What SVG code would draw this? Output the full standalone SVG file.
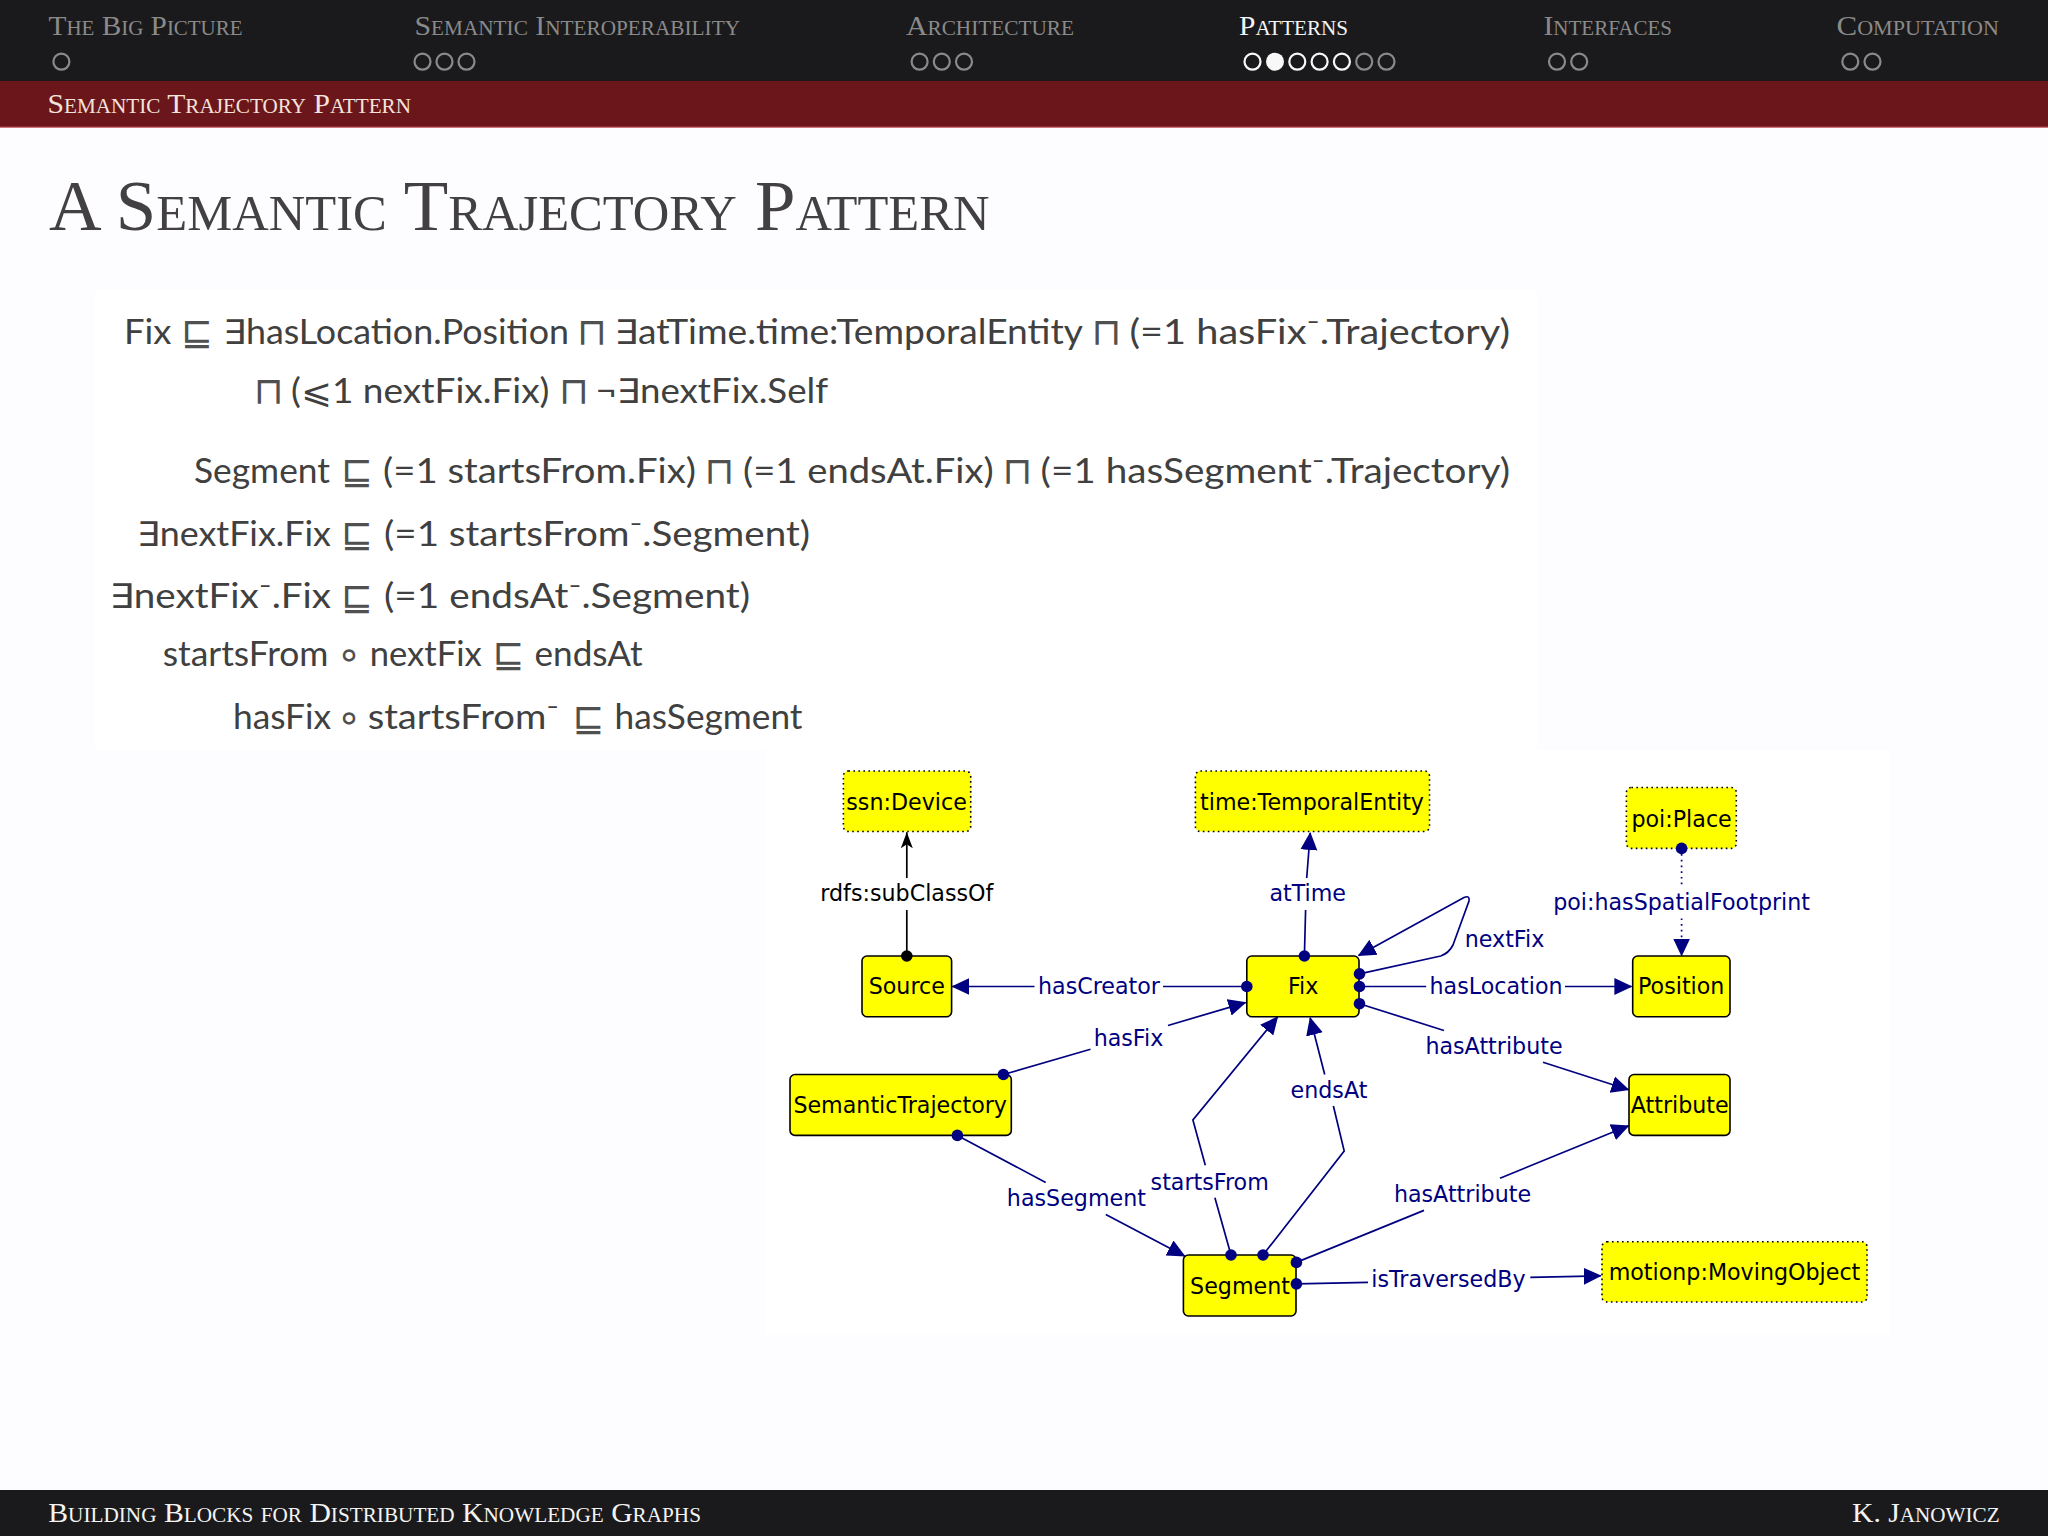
<svg xmlns="http://www.w3.org/2000/svg" width="2048" height="1536" viewBox="0 0 2048 1536">
<style>
.sc{font-family:"Liberation Serif",serif;font-variant:small-caps}
.nav{font-size:28px;fill:#8a8a8a}
.cur{fill:#f4f4f4}
.eq{font-family:"Lato","DejaVu Sans",sans-serif;font-size:34px;fill:#404040}
.s{font-size:38px;fill:#505050}
.o{font-size:40px;fill:#505050}
.n{fill:#ffff00;stroke:#000;stroke-width:1.6}
.d{fill:#ffff00;stroke:#000;stroke-width:1.6;stroke-dasharray:1.6 3.4}
.t{font-family:"DejaVu Sans",sans-serif;font-size:22.2px;fill:#000;text-anchor:middle}
.e{fill:none;stroke:#000080;stroke-width:1.7;marker-end:url(#arr)}
.l{font-family:"DejaVu Sans",sans-serif;font-size:22.2px;fill:#000080;text-anchor:middle}
.p{fill:#000080}
.c{fill:none;stroke:#8a8a8a;stroke-width:2.2}
.w{fill:none;stroke:#f8f8f8;stroke-width:2.2}
</style>
<defs>
<marker id="arr" markerUnits="userSpaceOnUse" markerWidth="20" markerHeight="20" refX="17" refY="10" orient="auto"><path d="M0 1.5L18 10L0 18.5Z" fill="#000080"/></marker>
<marker id="arrk" markerUnits="userSpaceOnUse" markerWidth="18" markerHeight="16" refX="16" refY="8" orient="auto"><path d="M0 2L16 8L0 14L4 8Z" fill="#000"/></marker>
</defs>
<rect width="2048" height="1536" fill="#fdfcfe"/>
<rect x="95" y="290" width="1442" height="460" fill="#fff"/>
<rect x="765" y="750" width="1125" height="585" fill="#fff"/>

<g id="header">
<rect width="2048" height="81" fill="#1a1a1c"/>
<rect y="81" width="2048" height="46" fill="#6b161a"/>
<rect y="126.5" width="2048" height="1.2" fill="#b84048"/>
<text class="sc nav" x="48.5" y="35" textLength="194" lengthAdjust="spacingAndGlyphs">The Big Picture</text>
<text class="sc nav" x="414.5" y="35" textLength="325.5" lengthAdjust="spacingAndGlyphs">Semantic Interoperability</text>
<text class="sc nav" x="906" y="35" textLength="168" lengthAdjust="spacingAndGlyphs">Architecture</text>
<text class="sc nav cur" x="1239" y="35" textLength="109" lengthAdjust="spacingAndGlyphs">Patterns</text>
<text class="sc nav" x="1543.5" y="35" textLength="128.5" lengthAdjust="spacingAndGlyphs">Interfaces</text>
<text class="sc nav" x="1836.5" y="35" textLength="162.5" lengthAdjust="spacingAndGlyphs">Computation</text>
<circle class="c" cx="61.4" cy="61.7" r="8"/>
<circle class="c" cx="422.5" cy="61.7" r="8"/><circle class="c" cx="444.5" cy="61.7" r="8"/><circle class="c" cx="466.5" cy="61.7" r="8"/>
<circle class="c" cx="919.6" cy="61.7" r="8"/><circle class="c" cx="941.8" cy="61.7" r="8"/><circle class="c" cx="964" cy="61.7" r="8"/>
<circle class="w" cx="1252.5" cy="61.7" r="8"/><circle cx="1275" cy="61.7" r="9" fill="#f8f8f8"/><circle class="w" cx="1297.3" cy="61.7" r="8"/><circle class="w" cx="1319.6" cy="61.7" r="8"/><circle class="w" cx="1341.9" cy="61.7" r="8"/>
<circle class="c" cx="1364.2" cy="61.7" r="8"/><circle class="c" cx="1386.5" cy="61.7" r="8"/>
<circle class="c" cx="1557" cy="61.7" r="8"/><circle class="c" cx="1579.2" cy="61.7" r="8"/>
<circle class="c" cx="1850.3" cy="61.7" r="8"/><circle class="c" cx="1872.5" cy="61.7" r="8"/>
<text class="sc" x="47.5" y="112.5" font-size="28" fill="#f3e3dc" textLength="363.5" lengthAdjust="spacingAndGlyphs">Semantic Trajectory Pattern</text>
</g>

<text class="sc" x="49" y="229.5" font-size="72" fill="#434044" textLength="940.5" lengthAdjust="spacingAndGlyphs">A Semantic Trajectory Pattern</text>

<g id="axioms">
<g id="axiom-1">
<text class="eq" x="124" y="343.5" textLength="47.4" lengthAdjust="spacingAndGlyphs">Fix</text>
<text class="eq s" x="181" y="345">⊑</text>
<text class="eq" x="223.3" y="343.5" textLength="345.7" lengthAdjust="spacingAndGlyphs">∃hasLocation.Position</text>
<text class="eq s" x="577" y="344.5">⊓</text>
<text class="eq" x="614.5" y="343.5" textLength="468.5" lengthAdjust="spacingAndGlyphs">∃atTime.time:TemporalEntity</text>
<text class="eq s" x="1091.5" y="344.5">⊓</text>
<text class="eq" x="1129.4" y="343.5" textLength="380.6" lengthAdjust="spacingAndGlyphs">(=1 hasFix⁻.Trajectory)</text>
</g>
<g id="axiom-1b">
<text class="eq s" x="253.7" y="403.5">⊓</text>
<text class="eq" x="291" y="402.5" textLength="258.5" lengthAdjust="spacingAndGlyphs">(⩽1 nextFix.Fix)</text>
<text class="eq s" x="559" y="403.5">⊓</text>
<text class="eq" x="595.6" y="402.5" textLength="232.4" lengthAdjust="spacingAndGlyphs">¬∃nextFix.Self</text>
</g>
<g id="axiom-2">
<text class="eq" x="194" y="482.5" textLength="136" lengthAdjust="spacingAndGlyphs">Segment</text>
<text class="eq s" x="341" y="484">⊑</text>
<text class="eq" x="383" y="482.5" textLength="313" lengthAdjust="spacingAndGlyphs">(=1 startsFrom.Fix)</text>
<text class="eq s" x="704.5" y="483.5">⊓</text>
<text class="eq" x="743" y="482.5" textLength="250.7" lengthAdjust="spacingAndGlyphs">(=1 endsAt.Fix)</text>
<text class="eq s" x="1002.5" y="483.5">⊓</text>
<text class="eq" x="1040.6" y="482.5" textLength="469.4" lengthAdjust="spacingAndGlyphs">(=1 hasSegment⁻.Trajectory)</text>
</g>
<g id="axiom-3">
<text class="eq" x="137" y="545.8" textLength="194" lengthAdjust="spacingAndGlyphs">∃nextFix.Fix</text>
<text class="eq s" x="341" y="547.3">⊑</text>
<text class="eq" x="384" y="545.8" textLength="426" lengthAdjust="spacingAndGlyphs">(=1 startsFrom⁻.Segment)</text>
</g>
<g id="axiom-4">
<text class="eq" x="109.4" y="608" textLength="221.6" lengthAdjust="spacingAndGlyphs">∃nextFix⁻.Fix</text>
<text class="eq s" x="341" y="609.5">⊑</text>
<text class="eq" x="384" y="608" textLength="366" lengthAdjust="spacingAndGlyphs">(=1 endsAt⁻.Segment)</text>
</g>
<g id="axiom-5">
<text class="eq" x="162.7" y="665.8" textLength="165.8" lengthAdjust="spacingAndGlyphs">startsFrom</text>
<text class="eq o" x="336.5" y="668">∘</text>
<text class="eq" x="369.7" y="665.8" textLength="112" lengthAdjust="spacingAndGlyphs">nextFix</text>
<text class="eq s" x="492.5" y="667.3">⊑</text>
<text class="eq" x="534.5" y="665.8" textLength="108.1" lengthAdjust="spacingAndGlyphs">endsAt</text>
</g>
<g id="axiom-6">
<text class="eq" x="233" y="729" textLength="98" lengthAdjust="spacingAndGlyphs">hasFix</text>
<text class="eq o" x="336.5" y="731">∘</text>
<text class="eq" x="367.7" y="729" textLength="191.3" lengthAdjust="spacingAndGlyphs">startsFrom⁻</text>
<text class="eq s" x="572.5" y="730.5">⊑</text>
<text class="eq" x="614.5" y="729" textLength="188" lengthAdjust="spacingAndGlyphs">hasSegment</text>
</g>
</g>

<g id="connectors">
<path id="e-subclass" class="e" style="stroke:#000;marker-end:url(#arrk)" d="M906.8 956V910M906.8 878V832.3"/>
<text class="l" style="fill:#000" x="906.8" y="901.3">rdfs:subClassOf</text>
<path id="e-attime" class="e" d="M1304.4 956L1305.6 910M1306.7 878L1310.2 833"/>
<text class="l" x="1307.7" y="901.3">atTime</text>
<path id="e-hascreator" class="e" d="M1246.8 986.5H1163M1034.5 986.5H952.4"/>
<text class="l" x="1099" y="994">hasCreator</text>
<path id="e-hasfix" class="e" d="M1003.4 1074.5L1090.5 1049.3M1168 1025.5L1245.5 1002.6"/>
<text class="l" x="1128.5" y="1045.7">hasFix</text>
<path id="e-hassegment" class="e" d="M957.4 1135.4L1045.7 1182.5M1105.8 1214.6L1184.6 1256"/>
<text class="l" x="1076.4" y="1206.3">hasSegment</text>
<path id="e-startsfrom" class="e" d="M1231 1255L1214.9 1197.8M1205.3 1165.2L1192.9 1120L1277.5 1017"/>
<text class="l" x="1209.7" y="1189.6">startsFrom</text>
<path id="e-endsat" class="e" d="M1263 1255L1344.2 1151L1333.4 1106M1324.7 1074.5L1310.2 1018"/>
<text class="l" x="1329" y="1097.8">endsAt</text>
<path id="e-nextfix" class="e" d="M1359.5 973.9L1440.7 956Q1449 953 1453 945L1469 901Q1470 895 1464 897.5L1358.6 955.5"/>
<text class="l" x="1504.5" y="947">nextFix</text>
<path id="e-haslocation" class="e" d="M1359.5 986.5H1426.2M1565 986.5H1631.4"/>
<text class="l" x="1496" y="994">hasLocation</text>
<path id="e-fixattr" class="e" d="M1359.5 1003.7L1444 1030.5M1543 1062.3L1628.5 1089.8"/>
<text class="l" x="1494" y="1053.8">hasAttribute</text>
<path id="e-segattr" class="e" d="M1296.4 1262.4L1424 1210.4M1500 1178.2L1628.5 1125.8"/>
<text class="l" x="1462.5" y="1201.5">hasAttribute</text>
<path id="e-traversed" class="e" d="M1296.4 1283.9L1368 1282.3M1530.3 1277.4L1600.7 1275.8"/>
<text class="l" x="1448.5" y="1287.3">isTraversedBy</text>
<path id="e-footprint" class="e" style="stroke-dasharray:1.7 4" d="M1681.6 848.4V885.9M1681.6 918.4V955.5"/>
<text class="l" x="1681.6" y="909.8">poi:hasSpatialFootprint</text>
</g>

<g id="ssn-device"><rect class="d" x="843.4" y="771" width="127.3" height="60.5" rx="5"/><text class="t" x="906.6" y="809.6">ssn:Device</text></g>
<g id="time-entity"><rect class="d" x="1195.4" y="771" width="234.1" height="60.5" rx="5"/><text class="t" x="1312" y="809.6">time:TemporalEntity</text></g>
<g id="poi-place"><rect class="d" x="1626.4" y="787.5" width="109.9" height="60.9" rx="5"/><text class="t" x="1681.6" y="826.5">poi:Place</text></g>
<g id="source"><rect class="n" x="862" y="956" width="89.6" height="60.7" rx="5"/><text class="t" x="906.8" y="994">Source</text></g>
<g id="fix"><rect class="n" x="1246.8" y="956" width="112.2" height="60.7" rx="5"/><text class="t" x="1303.2" y="994">Fix</text></g>
<g id="position"><rect class="n" x="1632.7" y="956" width="97.3" height="60.7" rx="5"/><text class="t" x="1681.2" y="994">Position</text></g>
<g id="semantic-trajectory"><rect class="n" x="790" y="1074.5" width="221.3" height="60.9" rx="5"/><text class="t" x="900.2" y="1112.7">SemanticTrajectory</text></g>
<g id="attribute"><rect class="n" x="1629" y="1074.5" width="101" height="60.9" rx="5"/><text class="t" x="1679.7" y="1112.7">Attribute</text></g>
<g id="segment"><rect class="n" x="1183.4" y="1255" width="112.6" height="61" rx="5"/><text class="t" x="1240" y="1293.7">Segment</text></g>
<g id="moving-object"><rect class="d" x="1602" y="1241.8" width="265" height="60.2" rx="5"/><text class="t" x="1734.5" y="1280">motionp:MovingObject</text></g>

<g id="connector-ends">
<circle cx="906.8" cy="956" r="5.8" fill="#000"/>
<circle class="p" cx="1304.4" cy="956" r="5.8"/><circle class="p" cx="1246.8" cy="986.5" r="5.8"/>
<circle class="p" cx="1359.5" cy="973.9" r="5.8"/><circle class="p" cx="1359.5" cy="986.5" r="5.8"/><circle class="p" cx="1359.5" cy="1003.7" r="5.8"/>
<circle class="p" cx="1003.4" cy="1074.5" r="5.8"/><circle class="p" cx="957.4" cy="1135.4" r="5.8"/>
<circle class="p" cx="1231" cy="1255" r="5.8"/><circle class="p" cx="1263" cy="1255" r="5.8"/>
<circle class="p" cx="1296.4" cy="1262.4" r="5.8"/><circle class="p" cx="1296.4" cy="1283.9" r="5.8"/>
<circle class="p" cx="1681.6" cy="848.4" r="5.8"/>
</g>

<g id="footer">
<rect y="1490" width="2048" height="46" fill="#1a1a1c"/>
<text class="sc" x="48.3" y="1521.7" font-size="28" fill="#f4f4f4" textLength="652.7" lengthAdjust="spacingAndGlyphs">Building Blocks for Distributed Knowledge Graphs</text>
<text class="sc" x="1852" y="1521.7" font-size="28" fill="#f4f4f4" textLength="147.6" lengthAdjust="spacingAndGlyphs">K. Janowicz</text>
</g>
</svg>
